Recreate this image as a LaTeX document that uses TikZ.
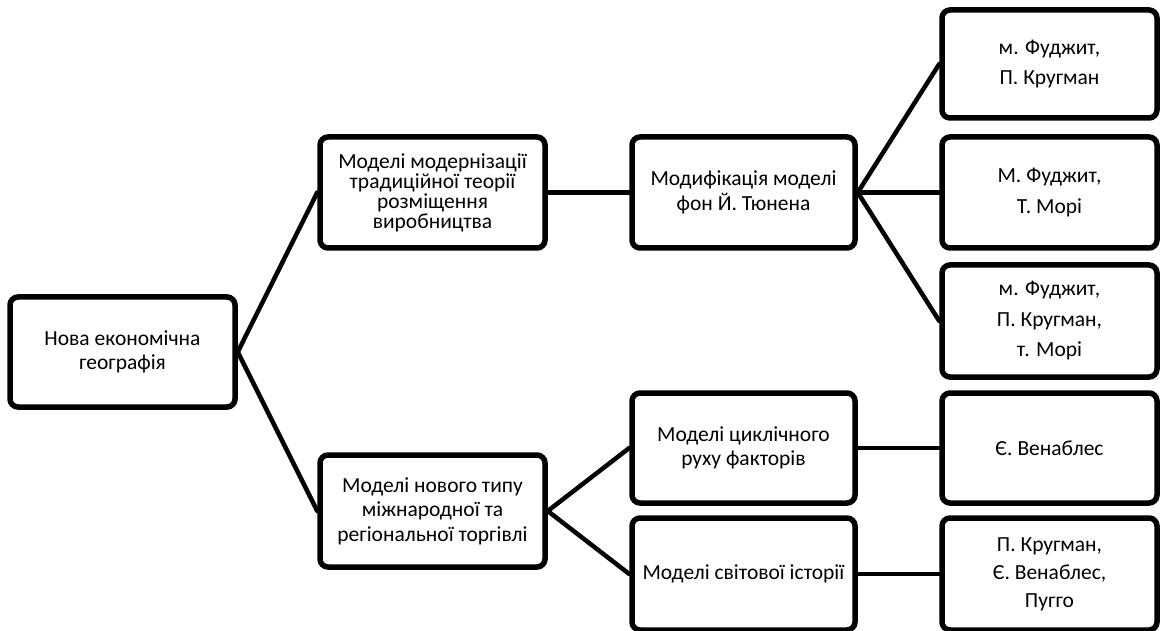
\documentclass[tikz,border=0pt]{standalone}
\usepackage{fontspec}
\setmainfont{Carlito}
\tikzset{
  bx/.style={draw=black, line width=5.5pt, rounded corners=8pt, fill=white, align=center, inner sep=2pt,
    font=\fontsize{21.5}{24.5}\selectfont},
  tight/.style={font=\fontsize{21.5}{20}\selectfont},
  wide/.style={font=\fontsize{21.5}{30.5}\selectfont},
  conn/.style={line width=4.5pt, line cap=round}
}
\newcommand{\bxat}[7]{% name, x1, x2, y1, y2, extra style, text
  \node[bx,#6, minimum width={(#3-#2)*1pt}, minimum height={(#5-#4)*1pt}] (#1) at ({(#2+#3)/2},{(#4+#5)/2}) {#7};}
\begin{document}
\begin{tikzpicture}[x=1pt,y=-1pt]
\useasboundingbox (0,0) rectangle (1160,631);
\bxat{root}{10}{235}{297}{407}{}{Нова економічна\\географія}
\bxat{b2}{320}{545}{137}{248}{tight}{Моделі модернізації\\традиційної теорії\\розміщення\\виробництва}
\bxat{b3}{632}{855}{137}{248}{}{Модифікація моделі\\фон Й. Тюнена}
\bxat{r1}{942}{1157}{10}{118}{wide}{м. Фуджит,\\П. Кругман}
\bxat{r2}{942}{1157}{137}{248}{wide}{М. Фуджит,\\Т. Морі}
\bxat{r3}{942}{1157}{265}{377}{wide}{м. Фуджит,\\П. Кругман,\\т. Морі}
\bxat{b4}{320}{545}{455}{567}{}{Моделі нового типу\\міжнародної та\\регіональної торгівлі}
\bxat{b5}{632}{855}{393}{503}{}{Моделі циклічного\\руху факторів}
\bxat{b6}{632}{855}{518}{630}{}{Моделі світової історії}
\bxat{r4}{942}{1157}{393}{503}{wide}{Є. Венаблес}
\bxat{r5}{942}{1157}{518}{630}{font=\fontsize{21.5}{28}\selectfont}{П. Кругман,\\Є. Венаблес,\\Пугго}
\draw[conn] (root.east) -- (b2.west);
\draw[conn] (root.east) -- (b4.west);
\draw[conn] (b2.east) -- (b3.west);
\draw[conn] (b3.east) -- (r1.west);
\draw[conn] (b3.east) -- (r2.west);
\draw[conn] (b3.east) -- (r3.west);
\draw[conn] (b4.east) -- (b5.west);
\draw[conn] (b4.east) -- (b6.west);
\draw[conn] (b5.east) -- (r4.west);
\draw[conn] (b6.east) -- (r5.west);
\end{tikzpicture}
\end{document}
